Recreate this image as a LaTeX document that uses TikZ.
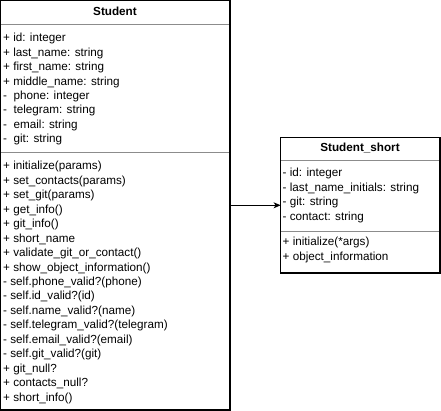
\documentclass[tikz,border=0pt]{standalone}
\usepackage{fontspec}
\setmainfont{Liberation Sans}
\usetikzlibrary{arrows.meta}
\begin{document}
\begin{tikzpicture}[x=1pt,y=-1pt,
  box/.style={draw=black, line width=1.2pt, inner sep=0pt, outer sep=0pt, anchor=north west},
  sep/.style={draw=black!45, line width=0.9pt},
  txt/.style={anchor=base west, inner sep=0pt, font=\fontsize{11.7}{14}\selectfont},
  ttl/.style={anchor=base, inner sep=0pt, font=\fontsize{11.7}{14}\selectfont\bfseries},
  conn/.style={draw=black, line width=1pt, -{Stealth[length=7pt,width=6pt,inset=2pt]}}]
\useasboundingbox (0,0) rectangle (441,411);
% Student class
\node[box, minimum width=229.4pt, minimum height=409.4pt] (student) at (0.6,0.6) {};
\draw[sep] (1.2,24) -- (229.4,24);
\draw[sep] (1.2,152) -- (229.4,152);
\node[ttl] (studenttitle) at (115,16) {Student};
\foreach \t [count=\i] in {+ id: integer, + last\_name: string, + first\_name: string, + middle\_name: string, -\ \ phone: integer, -\ \ telegram: string, -\ \ email: string, -\ \ git: string}
  \node[txt] (sf\i) at (3,{42+(\i-1)*14.35}) {\t};
\foreach \t [count=\i] in {+ initialize(params), + set\_contacts(params), + set\_git(params), + get\_info(), + git\_info(), + short\_name, + validate\_git\_or\_contact(), + show\_object\_information(), - self.phone\_valid?(phone), - self.id\_valid?(id), - self.name\_valid?(name), - self.telegram\_valid?(telegram), - self.email\_valid?(email), - self.git\_valid?(git), + git\_null?, + contacts\_null?, + short\_info()}
  \node[txt] (sm\i) at (3,{170+(\i-1)*14.44}) {\t};
% Student_short class
\node[box, minimum width=159.4pt, minimum height=135.4pt] (short) at (280.6,137.6) {};
\draw[sep] (281.2,160) -- (439.4,160);
\draw[sep] (281.2,231) -- (439.4,231);
\node[ttl] (shorttitle) at (360,151.5) {Student\_short};
\foreach \t [count=\i] in {- id: integer, - last\_name\_initials: string, - git: string, - contact: string}
  \node[txt] (ssf\i) at (282.5,{177+(\i-1)*14.4}) {\t};
\foreach \t [count=\i] in {+ initialize(*args), + object\_information}
  \node[txt] (ssm\i) at (282.5,{246+(\i-1)*14.4}) {\t};
% connector
\draw[conn] (student.east) -- (short.west);
\end{tikzpicture}
\end{document}
